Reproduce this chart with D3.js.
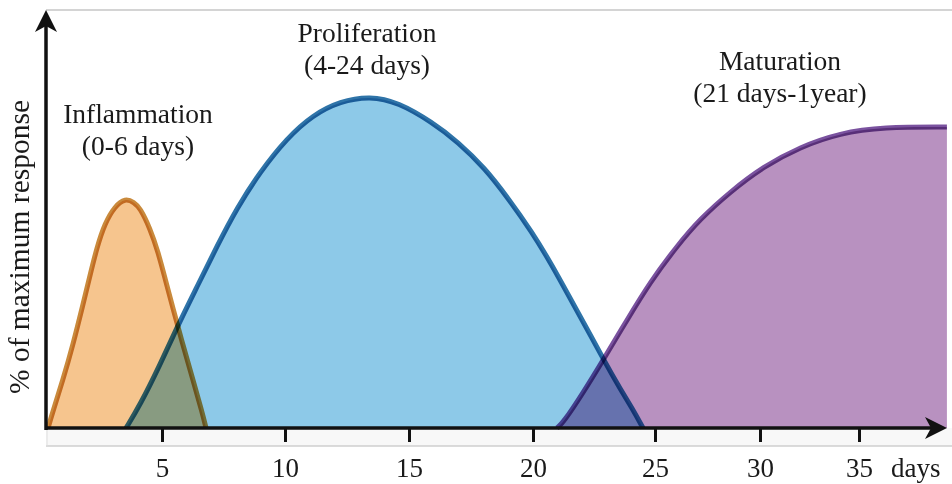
<!DOCTYPE html>
<html>
<head>
<meta charset="utf-8">
<script src="https://cdn.jsdelivr.net/npm/d3@7/dist/d3.min.js"></script>
<style>
  html, body { margin: 0; padding: 0; background: #ffffff; }
  svg { display: block; background: #ffffff; }
  text { font-family: "Liberation Serif", "Times New Roman", serif; fill: #1a1a1a; }
</style>
</head>
<body>
<svg id="chart" width="952" height="484"></svg>
<script>
// ---------- data ----------
const categories = ["Inflammation", "Proliferation", "Maturation"];
const phaseRanges = ["(0-6 days)", "(4-24 days)", "(21 days-1year)"];

const inflammationDays   = [0.09, 0.26, 0.73, 1.16, 1.59, 1.90, 2.20, 2.54, 2.97, 3.41, 3.80, 4.05, 4.48, 4.83, 5.12, 5.45, 5.85, 6.26, 6.63, 6.79];
const inflammationValues = [0,    4.2,  14.5, 25.1, 37.2, 46.2, 54.7, 61.9, 67.0, 69.4, 68.2, 66.5, 60.4, 53.2, 45.3, 36.0, 25.1, 14.5, 4.8,  0];

const proliferationDays   = [3.45, 4.05, 4.91, 5.65, 6.42, 7.24, 8.05, 8.98, 10.08, 11.13, 12.22, 13.43, 14.56, 15.93, 16.98, 18.06, 18.99, 19.96, 20.78, 21.6, 22.42, 22.95, 23.48, 24.06, 24.51];
const proliferationValues = [0,    6.9,  19.0, 31.1, 42.6, 55.0, 66.5, 77.3, 87.6,  94.6,  98.7,  100.3, 98.4,  92.4,  86.4,  78.5,  69.5,  59.2,  49.2,  38.1, 27.2,  19.9,  13.0,  6.0,   0];

const maturationDays   = [20.98, 21.23, 22.05, 22.87, 23.85, 24.8, 26.05, 27.14, 28.57, 30.15, 32.02, 34.04, 36.21, 39.44];
const maturationValues = [0,     1.5,   10.6,  20.5,  32.6,  44.1, 55.0,  63.1,  71.3,  78.9,  84.9,  89.1,  90.9,  90.9];

const tickValues = [5, 10, 15, 20, 25, 30, 35];
const xUnitLabel = "days";
const yAxisLabel = "% of maximum response";

// ---------- layout ----------
const svg = d3.select("#chart");
const W = 952, H = 484;
const axisX = 46, axisY = 428, topY = 10, rightX = 947;

// the reference's tick spacing is not uniform: piecewise linear scale through the ticks
const x = d3.scaleLinear()
  .domain([0, 5, 10, 15, 20, 25, 30, 35, 40])
  .range([46, 162, 285, 409, 533, 655, 760, 859, 958]);
const y = d3.scaleLinear().domain([0, 100]).range([axisY, 97]);

const series = [
  { name: categories[0], days: inflammationDays, values: inflammationValues, fill: "#f6c58e", stroke: "#c98a3c" },
  { name: categories[1], days: proliferationDays, values: proliferationValues, fill: "#8dc9e8", stroke: "#2f74a8" },
  { name: categories[2], days: maturationDays, values: maturationValues, fill: "#b891c0", stroke: "#7a529f" }
];
series.forEach(s => { s.points = s.days.map((d, i) => ({ day: d, v: s.values[i] })); });

// frame: light top line and light band under the x axis
svg.append("line").attr("x1", axisX).attr("x2", W).attr("y1", topY).attr("y2", topY)
  .attr("stroke", "#d4d4d4").attr("stroke-width", 2);
svg.append("rect").attr("x", axisX).attr("y", axisY).attr("width", W - axisX).attr("height", 18)
  .attr("fill", "#f8f8f8");
svg.append("line").attr("x1", axisX).attr("x2", W).attr("y1", axisY + 18).attr("y2", axisY + 18)
  .attr("stroke", "#cfcfcf").attr("stroke-width", 1.5);
svg.append("line").attr("x1", axisX + 1).attr("x2", axisX + 1).attr("y1", axisY).attr("y2", axisY + 18)
  .attr("stroke", "#dedede").attr("stroke-width", 1);

const area = d3.area().x(d => x(d.day)).y0(y(0)).y1(d => y(d.v)).curve(d3.curveBasis);
const line = d3.line().x(d => x(d.day)).y(d => y(d.v)).curve(d3.curveBasis);

const plot = svg.append("g").style("isolation", "isolate");
plot.selectAll("path.area").data(series).join("path")
  .attr("class", "area")
  .attr("d", d => area(d.points))
  .attr("fill", d => d.fill)
  .style("mix-blend-mode", "multiply");
plot.selectAll("path.line").data(series).join("path")
  .attr("class", "line")
  .attr("d", d => line(d.points))
  .attr("fill", "none")
  .attr("stroke", d => d.stroke)
  .attr("stroke-width", 5)
  .attr("stroke-linecap", "butt")
  .style("mix-blend-mode", "multiply");

// x axis ticks and labels
const xAxis = d3.axisBottom(x).tickValues(tickValues).tickSize(14).tickPadding(16).tickFormat(d3.format("d"));
const gx = svg.append("g").attr("transform", `translate(0,${axisY})`).call(xAxis);
gx.select(".domain").remove();
gx.selectAll(".tick line").attr("stroke", "#111").attr("stroke-width", 3);
gx.selectAll(".tick text").attr("font-size", 27).attr("fill", "#1a1a1a")
  .style("font-family", '"Liberation Serif", serif');

svg.append("text").attr("x", 891).attr("y", 477).attr("font-size", 27).text(xUnitLabel);

// axis lines with arrows
svg.append("line").attr("x1", axisX).attr("x2", 935).attr("y1", axisY).attr("y2", axisY)
  .attr("stroke", "#111").attr("stroke-width", 3.5);
svg.append("line").attr("x1", axisX).attr("x2", axisX).attr("y1", axisY + 2).attr("y2", 22)
  .attr("stroke", "#111").attr("stroke-width", 3.5);
svg.append("path")
  .attr("d", `M${rightX},${axisY} L${rightX - 22},${axisY - 11} L${rightX - 16},${axisY} L${rightX - 22},${axisY + 11} Z`)
  .attr("fill", "#111");
svg.append("path")
  .attr("d", `M${axisX},${topY} L${axisX - 11},${topY + 22} L${axisX},${topY + 16} L${axisX + 11},${topY + 22} Z`)
  .attr("fill", "#111");

// y axis label
svg.append("text")
  .attr("transform", `translate(29,247) rotate(-90)`)
  .attr("text-anchor", "middle")
  .attr("font-size", 29.5)
  .text(yAxisLabel);

// phase annotations
const annot = [
  { cx: 138, by: 123 },
  { cx: 367, by: 42 },
  { cx: 780, by: 70 }
];
categories.forEach((c, i) => {
  const t = svg.append("text").attr("text-anchor", "middle").attr("font-size", 27.5);
  t.append("tspan").attr("x", annot[i].cx).attr("y", annot[i].by).text(c);
  t.append("tspan").attr("x", annot[i].cx).attr("y", annot[i].by + 32).text(phaseRanges[i]);
});
</script>
</body>
</html>
